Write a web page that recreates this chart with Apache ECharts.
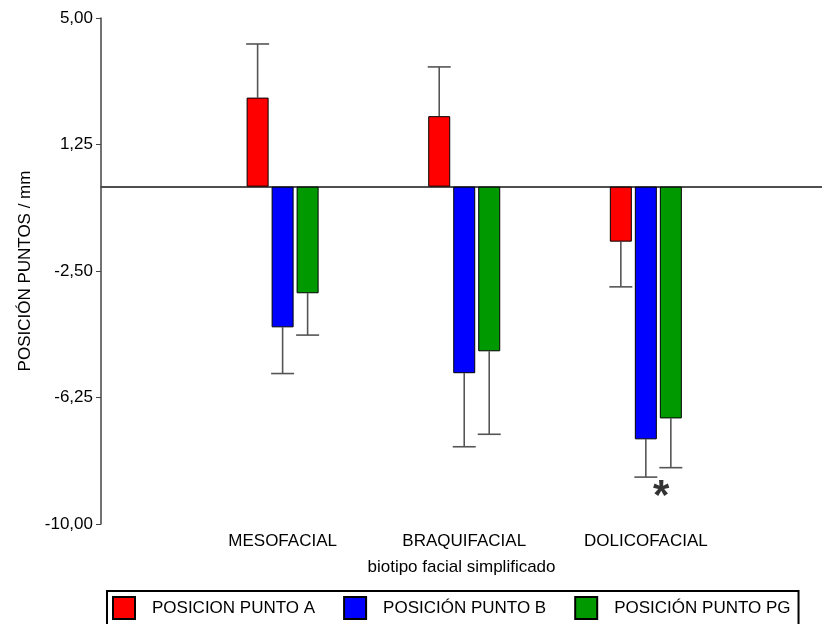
<!DOCTYPE html>
<html>
<head>
<meta charset="utf-8">
<script src="https://cdn.jsdelivr.net/npm/echarts@6/dist/echarts.min.js"></script>
<style>html,body{margin:0;padding:0;background:#fff}#c{width:822px;height:624px}</style>
</head>
<body>
<div id="c"></div>
<script>
const categories = ['MESOFACIAL', 'BRAQUIFACIAL', 'DOLICOFACIAL'];
const seriesNames = ['POSICION PUNTO A', 'POSICIÓN PUNTO B', 'POSICIÓN PUNTO PG'];
const puntoA = [2.64, 2.09, -1.63];
const puntoB = [-4.17, -5.53, -7.49];
const puntoPG = [-3.16, -4.88, -6.87];
const errA = [4.23, 3.55, -2.97];
const errB = [-5.54, -7.71, -8.61];
const errPG = [-4.40, -7.34, -8.33];
const yTicks = [-10, -6.25, -2.5, 1.25, 5];
const asteriskPoint = [3.085, -9.22];

const colors = ['#ff0000', '#0000ff', '#009a00'];
const means = [puntoA, puntoB, puntoPG];
const errs = [errA, errB, errPG];
const BAR_W = 22, STEP = 25;
const font = 'Liberation Sans, Arial, sans-serif';
const FS = 17;

const chart = echarts.init(document.getElementById('c'));
const series = [];
means.forEach((m, i) => {
  series.push({
    name: seriesNames[i], type: 'bar',
    data: m.map((v, k) => [k + 1, v]),
    barWidth: BAR_W, barGap: ((STEP - BAR_W) / BAR_W * 100) + '%',
    itemStyle: { color: colors[i], borderColor: '#000', borderWidth: 1 },
    z: 3,
    markLine: i === 0 ? {
      silent: true, symbol: 'none', label: { show: false },
      lineStyle: { color: '#444', width: 1.5, type: 'solid' },
      data: [{ yAxis: 0 }], z: 1
    } : undefined
  });
});
means.forEach((m, i) => {
  series.push({
    type: 'custom', silent: true, z: 2,
    data: m.map((v, k) => [k + 1, v, errs[i][k]]),
    renderItem: function (params, api) {
      const p0 = api.coord([api.value(0), api.value(1)]);
      const p1 = api.coord([api.value(0), api.value(2)]);
      const cx = p0[0] + (i - 1) * STEP;
      const hw = BAR_W / 2 + 0.5;
      return {
        type: 'group', children: [
          { type: 'line', shape: { x1: cx, y1: p0[1], x2: cx, y2: p1[1] }, style: { stroke: '#555', lineWidth: 1.6 } },
          { type: 'line', shape: { x1: cx - hw, y1: p1[1], x2: cx + hw, y2: p1[1] }, style: { stroke: '#555', lineWidth: 1.6 } }
        ]
      };
    }
  });
});
series.push({
  type: 'scatter', symbolSize: 0, silent: true,
  data: [asteriskPoint],
  label: { show: true, position: 'inside', formatter: '*', fontSize: 42, fontWeight: 'bold', color: '#000', textBorderWidth: 0, fontFamily: font }
});

chart.setOption({
  animation: false,
  grid: { left: 101, right: 0, top: 18, bottom: 100 },
  legend: {
    data: seriesNames, left: 107, top: 591,
    itemWidth: 22, itemHeight: 22, itemGap: 28,
    borderColor: '#000', borderWidth: 2, padding: [5, 8, 8, 5],
    textStyle: { fontSize: FS, color: '#000', fontFamily: font, padding: [0, 0, 0, 12] },
    icon: 'rect'
  },
  xAxis: {
    type: 'value', min: 0, max: 3.97,
    name: 'biotipo facial simplificado', nameLocation: 'middle', nameGap: 35,
    nameTextStyle: { fontSize: FS, color: '#000', fontFamily: font },
    axisLine: { lineStyle: { color: '#444', width: 1.5 } },
    axisTick: { customValues: [1, 2, 3], length: 5, lineStyle: { color: '#444' } },
    axisLabel: { customValues: [1, 2, 3], formatter: v => categories[Math.round(v) - 1], fontSize: FS, color: '#000', fontFamily: font, margin: 9 },
    splitLine: { show: false }
  },
  yAxis: {
    type: 'value', min: -10, max: 5,
    name: 'POSICIÓN PUNTOS / mm', nameLocation: 'middle', nameGap: 65,
    nameTextStyle: { fontSize: FS, color: '#000', fontFamily: font },
    axisLine: { show: true, lineStyle: { color: '#444', width: 1.5 } },
    axisTick: { show: true, customValues: yTicks, length: 5, lineStyle: { color: '#444' } },
    axisLabel: { customValues: yTicks, formatter: v => v.toFixed(2).replace('.', ','), fontSize: FS, color: '#000', fontFamily: font, margin: 8 },
    splitLine: { show: false }
  },
  series: series
});
</script>
</body>
</html>
